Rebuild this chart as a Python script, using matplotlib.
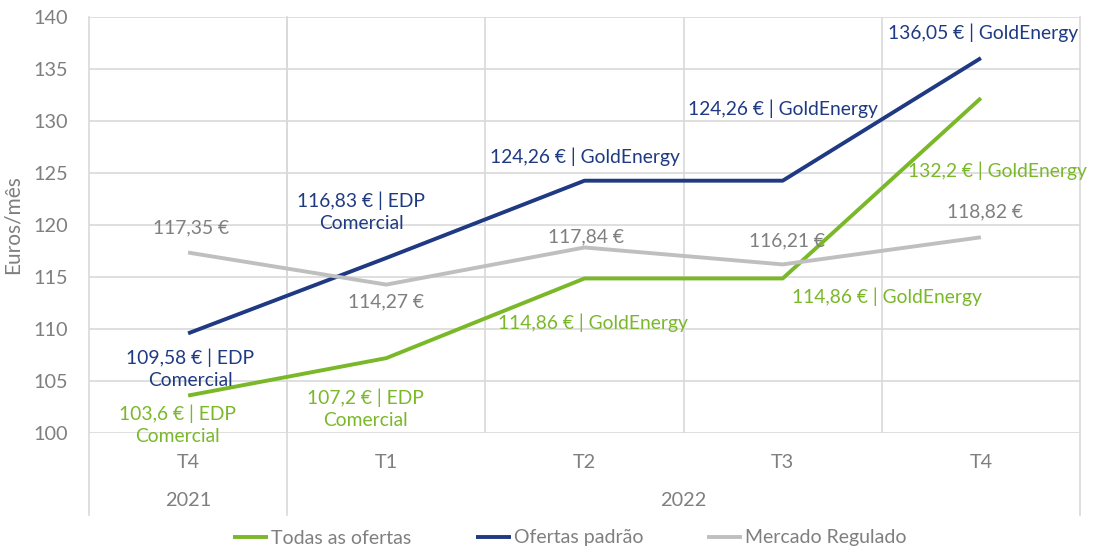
import matplotlib
matplotlib.use("Agg")
import matplotlib.pyplot as plt
from matplotlib.transforms import blended_transform_factory

plt.rcParams['font.family'] = ['Lato', 'DejaVu Sans']

quarters = ["T4", "T1", "T2", "T3", "T4"]
years = ["2021", "2022"]
year_spans = [(0, 0), (1, 4)]
todas = [103.6, 107.2, 114.86, 114.86, 132.2]
padrao = [109.58, 116.83, 124.26, 124.26, 136.05]
regulado = [117.35, 114.27, 117.84, 116.21, 118.82]
todas_lbl = ["103,6 € | EDP\nComercial", "107,2 € | EDP\nComercial",
             "114,86 € | GoldEnergy", "114,86 € | GoldEnergy", "132,2 € | GoldEnergy"]
padrao_lbl = ["109,58 € | EDP\nComercial", "116,83 € | EDP\nComercial",
              "124,26 € | GoldEnergy", "124,26 € | GoldEnergy", "136,05 € | GoldEnergy"]
regulado_lbl = ["117,35 €", "114,27 €", "117,84 €", "116,21 €", "118,82 €"]

GREEN = "#7ab829"
BLUE = "#1f3a82"
GRAY = "#bfbfbf"
GRAYTXT = "#7f7f7f"
GRID = "#d9d9d9"

fig = plt.figure(figsize=(10.94, 5.52), dpi=100)
ax = fig.add_axes([89/1094, 1-433/552, (1080-89)/1094, (433-17)/552])

x = list(range(len(quarters)))
ax.plot(x, todas, color=GREEN, lw=2.8, label="Todas as ofertas", solid_capstyle='butt')
ax.plot(x, padrao, color=BLUE, lw=2.8, label="Ofertas padrão", solid_capstyle='butt')
ax.plot(x, regulado, color=GRAY, lw=2.8, label="Mercado Regulado", solid_capstyle='butt')

ax.set_xlim(-0.5, 4.5)
ax.set_ylim(100, 140)
ax.set_yticks(range(100, 141, 5))
ax.set_xticks([])
ax.set_xticks([0.5, 1.5, 2.5, 3.5], minor=True)
ax.grid(True, axis='y', color=GRID, lw=1.2)
ax.grid(True, axis='x', which='minor', color=GRID, lw=1.2)
ax.tick_params(axis='x', which='both', length=0)
ax.tick_params(axis='y', length=0, labelsize=14.3, labelcolor=GRAYTXT, pad=15)
for s in ax.spines.values():
    s.set_visible(False)
ax.set_axisbelow(True)
ax.set_ylabel("Euros/mês", fontsize=15, color=GRAYTXT, labelpad=8)

fs = 13.9
# offsets in pixels (dx, dy up)
reg_off = [(3, 25), (0, -17), (2, 11), (4, 24), (4, 25)]
for i, (v, t) in enumerate(zip(regulado, regulado_lbl)):
    ax.annotate(t, (x[i], v), xytext=reg_off[i], textcoords='offset pixels',
                ha='center', va='center', fontsize=fs, color=GRAYTXT)
pad_off = [(2, -35), (-25, 46), (0, 24), (0, 72), (2, 25)]
for i, (v, t) in enumerate(zip(padrao, padrao_lbl)):
    ax.annotate(t, (x[i], v), xytext=pad_off[i], textcoords='offset pixels',
                ha='center', va='center', fontsize=fs, color=BLUE, linespacing=1.35)
tod_off = [(-11, -29), (-21, -51), (8, -44), (104, -18), (17, -73)]
for i, (v, t) in enumerate(zip(todas, todas_lbl)):
    ax.annotate(t, (x[i], v), xytext=tod_off[i], textcoords='offset pixels',
                ha='center', va='center', fontsize=fs, color=GREEN, linespacing=1.35)

# multi-level category axis
tr = blended_transform_factory(ax.transData, fig.transFigure)
for i, q in enumerate(quarters):
    ax.text(x[i], 1-462/552, q, transform=tr, ha='center', va='center',
            fontsize=14.3, color=GRAYTXT)
for (a, b), yr in zip(year_spans, years):
    ax.text((a+b)/2, 1-500/552, yr, transform=tr, ha='center', va='center',
            fontsize=14.3, color=GRAYTXT)
for xv in [-0.5, 0.5, 4.5]:
    ax.plot([xv, xv], [1-17/552, 1-515/552], transform=tr, color=GRID, lw=1.2,
            clip_on=False, zorder=0)

fig.legend(loc='center', bbox_to_anchor=(570/1094, 1-538/552), ncol=3, frameon=False,
           fontsize=14, labelcolor=GRAYTXT, handlelength=1.8, handletextpad=0.15,
           columnspacing=3.3)

fig.savefig("out.png", dpi=100)
